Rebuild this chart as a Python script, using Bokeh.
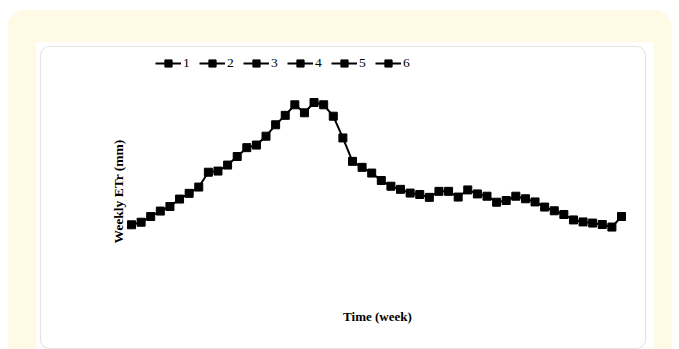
from bokeh.plotting import figure
from bokeh.models import Range1d, BoxAnnotation, Label, Legend, LegendItem, Node
from bokeh.embed import file_html
from bokeh.resources import INLINE
import math

weeks = [1, 2, 3, 4, 5, 6, 7, 8, 9, 10, 11, 12, 13, 14, 15, 16, 17, 18, 19, 20,
         21, 22, 23, 24, 25, 26, 27, 28, 29, 30, 31, 32, 33, 34, 35, 36, 37, 38, 39, 40,
         41, 42, 43, 44, 45, 46, 47, 48, 49, 50, 51, 52]
etr = [12.5, 13.4, 15.4, 17.3, 18.9, 21.5, 23.5, 25.7, 30.9, 31.3,
       33.4, 36.4, 39.5, 40.4, 43.5, 47.5, 50.8, 54.5, 51.7, 55.3,
       54.5, 50.5, 42.9, 34.7, 32.6, 30.6, 28.0, 26.0, 24.9, 23.6,
       23.1, 22.1, 24.2, 24.2, 22.2, 24.7, 23.3, 22.5, 20.4, 21.0,
       22.5, 21.6, 20.5, 18.7, 17.4, 16.1, 14.2, 13.5, 13.1, 12.6,
       11.7, 15.4]
legend_labels = ["1", "2", "3", "4", "5", "6"]
x_title = "Time (week)"
y_title = "Weekly ETr (mm)"

CREAM = "#fffae6"

p = figure(width=665, height=340, output_backend="svg", toolbar_location=None,
           x_axis_location=None, y_axis_location=None,
           x_range=Range1d(-8.888, 55.33), y_range=Range1d(-31.15, 76.3),
           min_border_left=29, min_border_right=19, min_border_top=33, min_border_bottom=0)
p.margin = (9, 0, 0, 7)
p.border_fill_color = CREAM
p.background_fill_color = "white"
p.outline_line_color = None
p.grid.visible = False
p.styles = {"border-radius": "20px 20px 0 0", "overflow": "hidden"}

box = BoxAnnotation(left=Node(target="frame", symbol="left", offset=4),
                    right=Node(target="frame", symbol="right", offset=-8),
                    top=Node(target="frame", symbol="top", offset=4),
                    bottom=Node(target="frame", symbol="bottom", offset=-1),
                    fill_alpha=0, line_color="#a8a8a8", line_width=1.2,
                    border_radius=9, level="underlay")
p.add_layout(box)

ln = p.line(weeks, etr, line_color="black", line_width=2)
sc = p.scatter(weeks, etr, marker="square", size=8, fill_color="black", line_color="black")

items = [LegendItem(label=l, renderers=[ln, sc]) for l in legend_labels]
leg = Legend(items=items, orientation="horizontal", location=(119, 276),
             glyph_width=26, glyph_height=18, label_standoff=2, spacing=9,
             label_width=7, label_height=20,
             padding=0, margin=0, background_fill_alpha=0, border_line_color=None,
             label_text_font="Liberation Serif", label_text_font_size="13.5px",
             label_text_color="black")
p.add_layout(leg)

p.add_layout(Label(x=26.6, y=-19.6, text=x_title, text_font="Liberation Serif",
                   text_font_style="bold", text_font_size="13px", text_color="black",
                   text_align="center", text_baseline="middle"))
p.add_layout(Label(x=-0.35, y=24.15, text=y_title, angle=math.pi / 2,
                   text_font="Liberation Serif", text_font_style="bold",
                   text_font_size="13.5px", text_color="black",
                   text_align="center", text_baseline="middle"))

open("out.html", "w").write(file_html(p, INLINE))
